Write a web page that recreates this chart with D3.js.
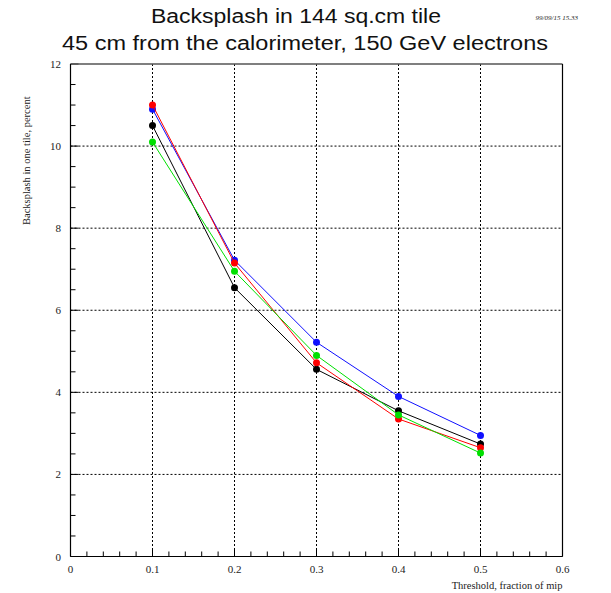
<!DOCTYPE html>
<html><head><meta charset="utf-8">
<script src="https://cdn.jsdelivr.net/npm/d3@7"></script>
<style>body{margin:0;background:#fff}svg{display:block}</style>
</head><body>
<script>
const thresholds = [0.1, 0.2, 0.3, 0.4, 0.5];
const blackVals = [10.5, 6.55, 4.56, 3.55, 2.74];
const blueVals  = [10.9, 7.22, 5.22, 3.90, 2.95];
const redVals   = [11.0, 7.15, 4.72, 3.35, 2.65];
const greenVals = [10.1, 6.95, 4.90, 3.45, 2.52];
const seriesNames = ["black", "blue", "red", "green"];
const seriesColors = ["#000000", "#1010ff", "#ff0000", "#00e000"];
const xTicks = [0, 0.1, 0.2, 0.3, 0.4, 0.5, 0.6];
const yTicks = [0, 2, 4, 6, 8, 10, 12];
const title1 = "Backsplash in 144 sq.cm tile";
const title2 = "45 cm from the calorimeter, 150 GeV electrons";
const dateLabel = "99/09/15  15.33";
const xTitle = "Threshold, fraction of mip";
const yTitle = "Backsplash in one tile, percent";

const series = [blackVals, blueVals, redVals, greenVals].map((v, i) => ({
  name: seriesNames[i], color: seriesColors[i],
  points: thresholds.map((t, j) => ({x: t, y: v[j]}))
}));

const W = 611, H = 593;
const L = 70.5, R = 562.5, T = 64, B = 556.5;
const svg = d3.select("body").append("svg").attr("width", W).attr("height", H);
const x = d3.scaleLinear().domain([0, 0.6]).range([L, R]);
const y = d3.scaleLinear().domain([0, 12]).range([B, T]);

// grid
const g = svg.append("g");
g.selectAll(".vg").data(thresholds).join("line")
  .attr("x1", d => x(d)).attr("x2", d => x(d)).attr("y1", T).attr("y2", B)
  .attr("stroke", "#000").attr("stroke-width", 1).attr("stroke-dasharray", "2,2");
g.selectAll(".hg").data(yTicks.filter(d => d > 0 && d < 12)).join("line")
  .attr("y1", d => y(d)).attr("y2", d => y(d)).attr("x1", L).attr("x2", R)
  .attr("stroke", "#000").attr("stroke-width", 1).attr("stroke-dasharray", "2,2");

// minor ticks
const xMinor = d3.range(0, 31).map(i => i * 0.02);
svg.append("g").selectAll("line").data(xMinor).join("line")
  .attr("x1", d => x(d)).attr("x2", d => x(d))
  .attr("y1", B).attr("y2", d => (Math.round(d * 50) % 5 === 0) ? B - 8 : B - 5)
  .attr("stroke", "#000");
const yMinor = d3.range(0, 25).map(i => i * 0.5);
svg.append("g").selectAll("line").data(yMinor).join("line")
  .attr("y1", d => y(d)).attr("y2", d => y(d))
  .attr("x1", L).attr("x2", d => (d % 2 === 0) ? L + 8 : L + 5)
  .attr("stroke", "#000");

// frame
svg.append("line").attr("x1", L).attr("x2", R).attr("y1", T).attr("y2", T).attr("stroke", "#555").attr("stroke-width", 1.5);
svg.append("line").attr("x1", R).attr("x2", R).attr("y1", T).attr("y2", B).attr("stroke", "#000").attr("stroke-width", 1.2);
svg.append("line").attr("x1", L).attr("x2", R).attr("y1", B).attr("y2", B).attr("stroke", "#000").attr("stroke-width", 1.2);
svg.append("line").attr("x1", L).attr("x2", L).attr("y1", T).attr("y2", B).attr("stroke", "#000").attr("stroke-width", 1.2);

// tick labels
const serif = "'Liberation Serif', 'DejaVu Serif', serif";
svg.append("g").selectAll("text").data(xTicks).join("text")
  .attr("x", d => x(d)).attr("y", 573).attr("text-anchor", "middle")
  .attr("font-family", serif).attr("font-size", 11).attr("fill", "#222")
  .text(d => d3.format("")(d));
svg.append("g").selectAll("text").data(yTicks).join("text")
  .attr("x", 61).attr("y", d => y(d) + 4).attr("text-anchor", "end")
  .attr("font-family", serif).attr("font-size", 11).attr("fill", "#222")
  .text(d => d);

// axis titles
svg.append("text").attr("x", R).attr("y", 589).attr("text-anchor", "end")
  .attr("font-family", serif).attr("font-size", 10.5).attr("fill", "#222").text(xTitle);
svg.append("text").attr("transform", "translate(30,225) rotate(-90)")
  .attr("text-anchor", "start").attr("font-family", serif).attr("font-size", 10.5).attr("fill", "#222").text(yTitle);

// titles
const sans = "'Liberation Sans', Arial, sans-serif";
svg.append("text").attr("x", 296).attr("y", 23).attr("text-anchor", "middle")
  .attr("font-family", sans).attr("font-size", 20).attr("fill", "#111")
  .attr("textLength", 290).attr("lengthAdjust", "spacingAndGlyphs").text(title1);
svg.append("text").attr("x", 305).attr("y", 50).attr("text-anchor", "middle")
  .attr("font-family", sans).attr("font-size", 20).attr("fill", "#111")
  .attr("textLength", 486).attr("lengthAdjust", "spacingAndGlyphs").text(title2);
svg.append("text").attr("x", 578).attr("y", 20).attr("text-anchor", "end")
  .attr("font-family", serif).attr("font-style", "italic").attr("font-size", 7).attr("fill", "#222").text(dateLabel);

// lines + markers
const line = d3.line().x(d => x(d.x)).y(d => y(d.y));
const sg = svg.append("g").selectAll("g").data(series).join("g");
sg.append("path").attr("d", d => line(d.points)).attr("fill", "none")
  .attr("stroke", d => d.color).attr("stroke-width", 1);
sg.selectAll("circle").data(d => d.points.map(p => ({...p, color: d.color}))).join("circle")
  .attr("cx", d => x(d.x)).attr("cy", d => y(d.y)).attr("r", 3.5).attr("fill", d => d.color);
</script>
</body></html>
